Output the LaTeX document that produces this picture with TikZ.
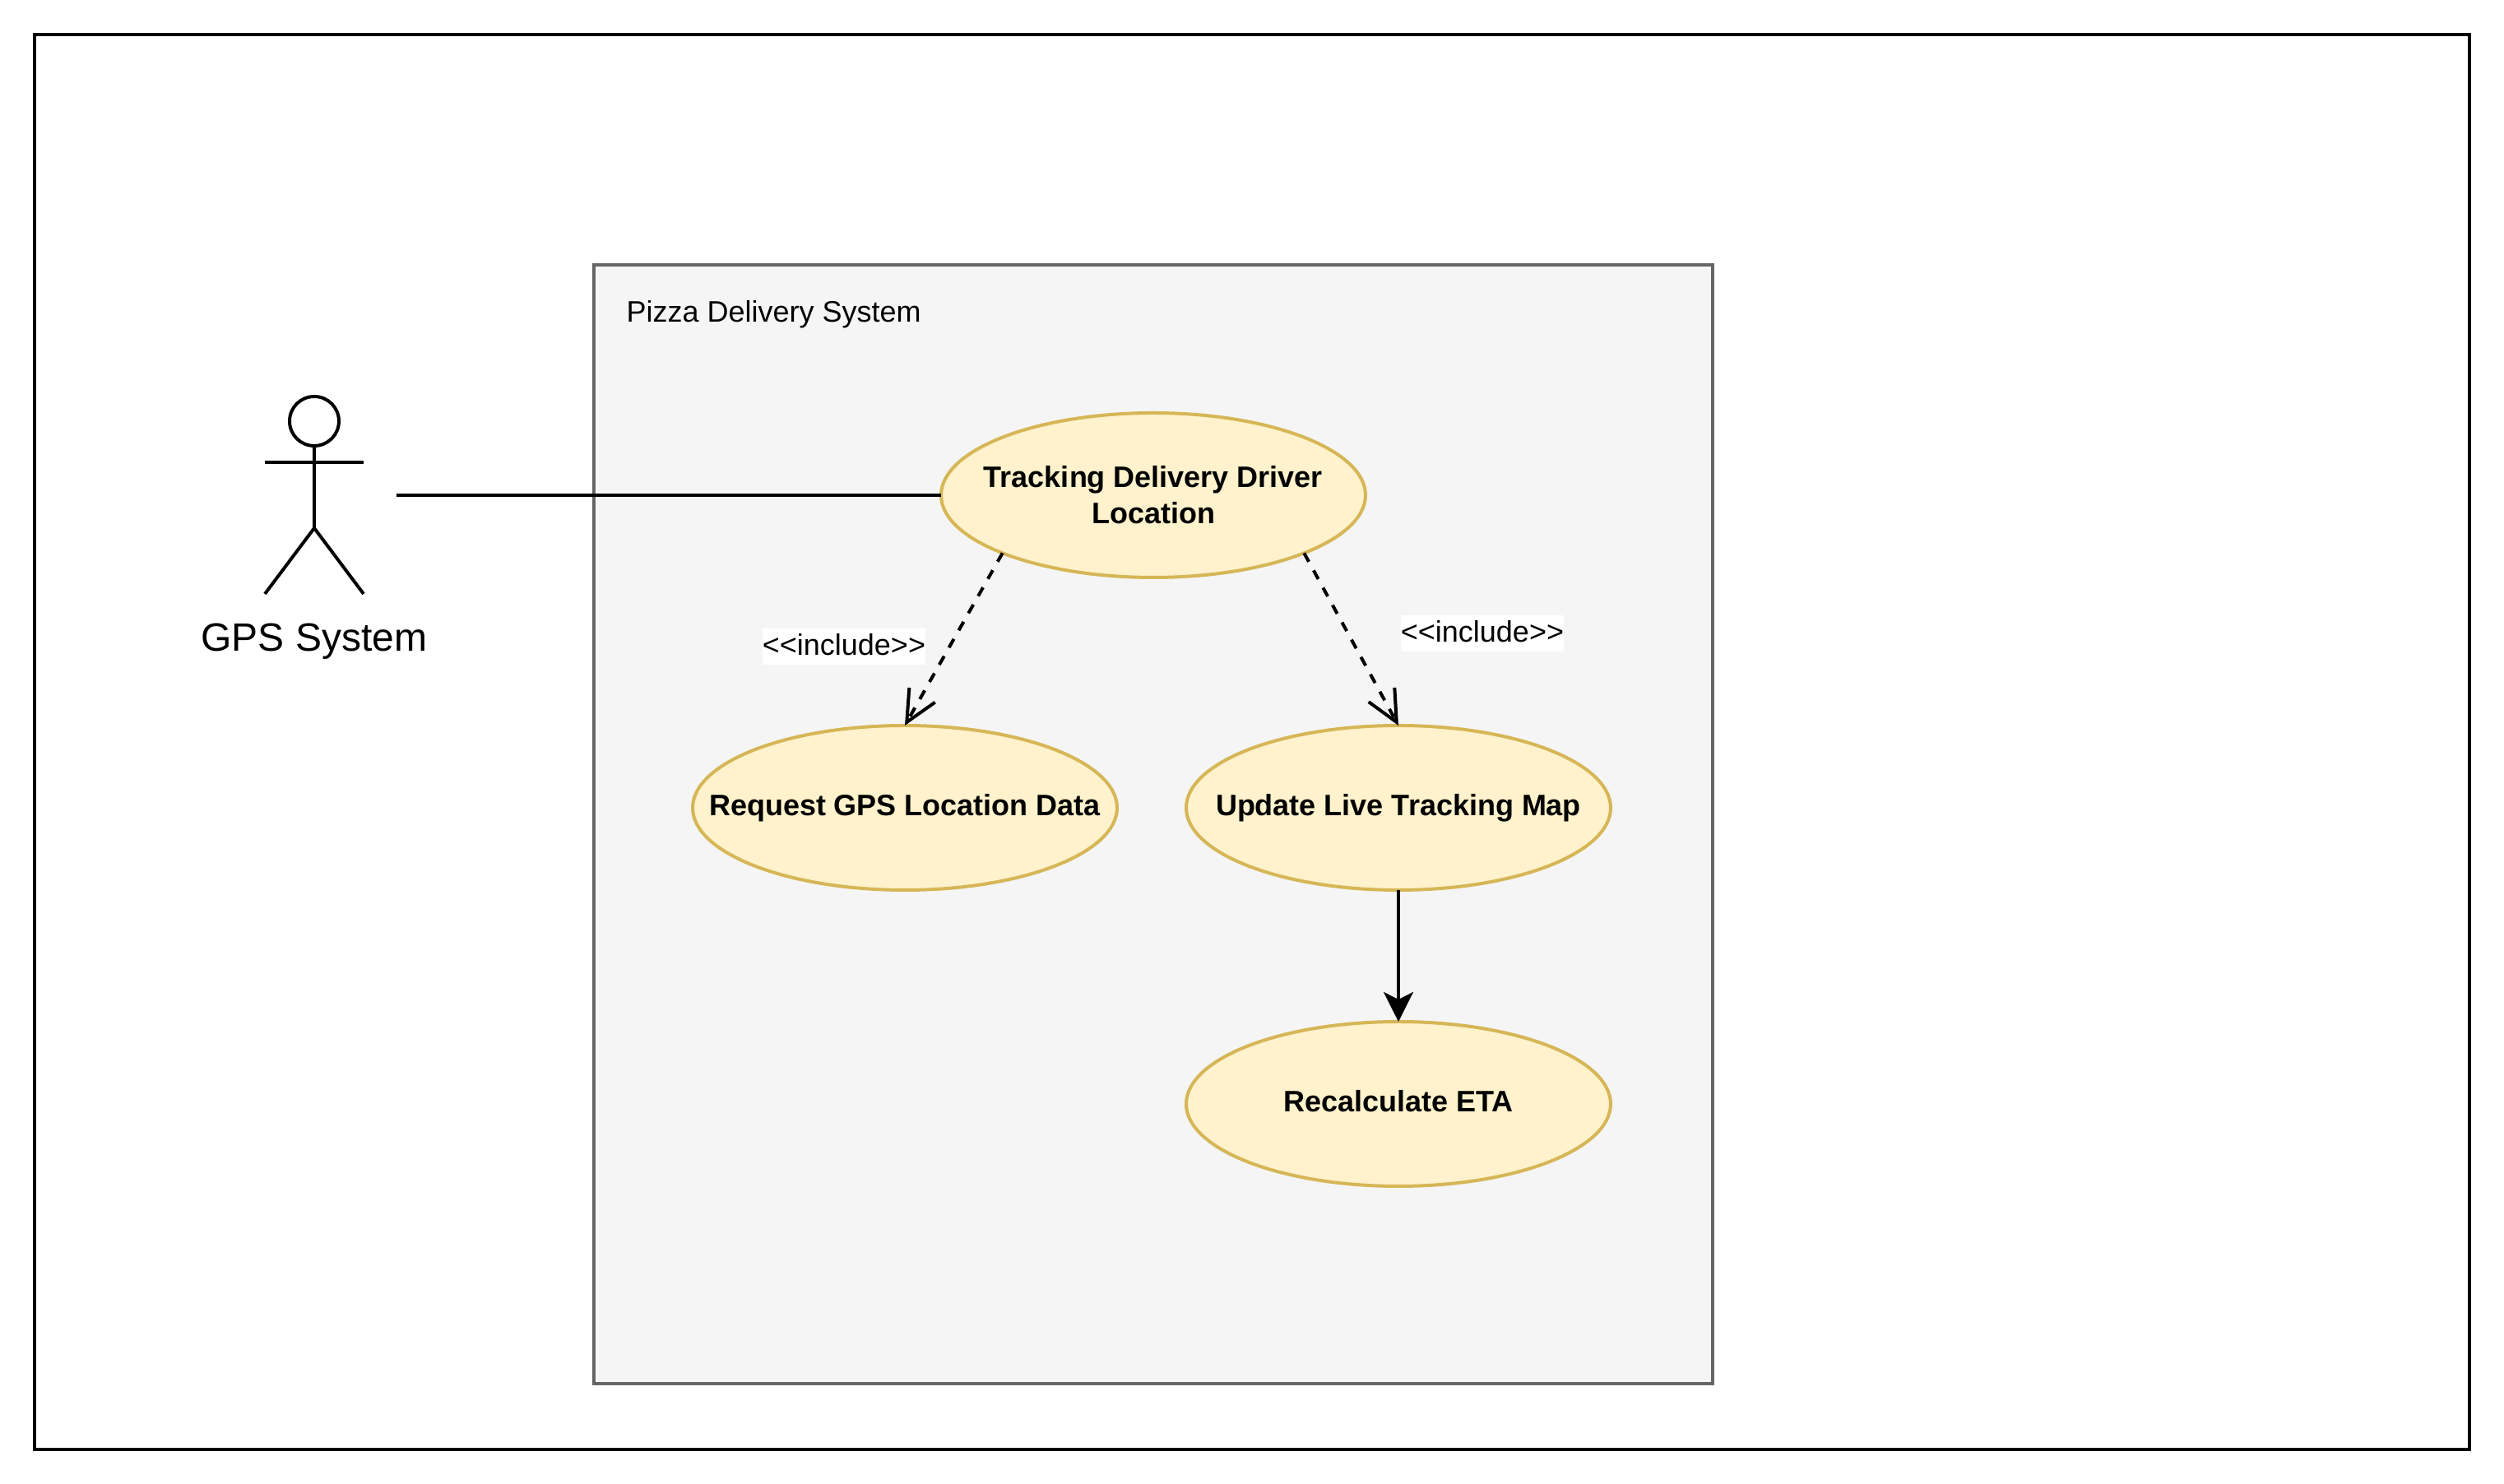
\documentclass[tikz,border=0pt]{standalone}
\usepackage{fontspec}
\setmainfont{Liberation Sans}
\usepackage{xcolor}
\usetikzlibrary{arrows.meta, positioning, shapes.geometric}
\definecolor{casefill}{HTML}{FFF2CC}
\definecolor{caseline}{HTML}{D6B656}
\definecolor{sysfill}{HTML}{F5F5F5}
\definecolor{sysline}{HTML}{666666}
\newcommand{\caseline}[1]{\makebox[0pt]{#1}}

\begin{document}
\begin{tikzpicture}[
  font=\fontsize{10.24}{12.52}\selectfont,
  line width=0.04cm,
  frame/.style={draw, black, minimum width=29.6cm, minimum height=17.2cm},
  sysbox/.style={draw=sysline, fill=sysfill, minimum width=13.6cm, minimum height=13.6cm},
  usecase/.style={draw=caseline, fill=casefill, ellipse, inner sep=0pt, outer sep=0pt,
                  minimum width=5.16cm, minimum height=2cm, align=center,
                  font=\fontsize{10.24}{12.52}\selectfont\bfseries},
  inclabel/.style={fill=white, inner sep=0pt, minimum width=1.96cm, minimum height=0.44cm},
  actorname/.style={anchor=base, font=\fontsize{13.66}{16}\selectfont},
  actorhead/.style={draw, circle, inner sep=0pt, outer sep=0pt, minimum size=0.6cm},
  assoc/.style={-},
  incl/.style={-{Straight Barb[length=0.38cm,width=0.36cm]}, dash pattern=on 0.12cm off 0.12cm},
  flow/.style={-{Stealth[length=0.36cm,width=0.36cm,inset=0.09cm]}}
]
\useasboundingbox (0,0) rectangle (30.44,18.04);

% Outer frame and system boundary
\node[frame] (page) at (15.22,9.02) {};
\node[sysbox] (system) at (14.02,8.02) {};
\node[anchor=base west] (syslabel) at (7.48,14.12) {Pizza Delivery System};

% Use cases
\node[usecase] (track) at (14.02,12.02) {\caseline{Tracking Delivery Driver}\\ \caseline{Location}};
\node[usecase, below=1.8cm of track, xshift=-3.02cm] (request) {\caseline{Request GPS Location Data}};
\node[usecase, below=1.8cm of track, xshift=2.98cm] (update) {\caseline{Update Live Tracking Map}};
\node[usecase, below=1.6cm of update] (eta) {\caseline{Recalculate ETA\vphantom{p}}};

% Actor
\node[actorhead] (head) at (3.82,12.92) {};
\draw (head.south) -- ++(0,-1.0) coordinate (hip);
\draw (hip) -- ++(-0.6,-0.8) coordinate (footl);
\draw (hip) -- ++(0.6,-0.8) coordinate (footr);
\draw ([yshift=-0.2cm]head.south) ++(-0.6,0) coordinate (arml) -- ++(1.2,0) coordinate (armr);
\node[actorname] (gps) at (3.82,10.12) {GPS System};
\coordinate (actorend) at (4.82,12.02);

% Edges
\draw[assoc] (actorend) -- (track.west);
\draw[incl] (track.201) -- (request.north);
\draw[incl] (track.339) -- (update.north);
\draw[flow] (update.south) -- (eta.north);

% Include labels
\node[inclabel] (inclleft) at (10.26,10.18) {\raisebox{0.05cm}{<{}<{}include>{}>}};
\node[inclabel] (inclright) at (18.02,10.34) {\raisebox{0.05cm}{<{}<{}include>{}>}};

\end{tikzpicture}
\end{document}
